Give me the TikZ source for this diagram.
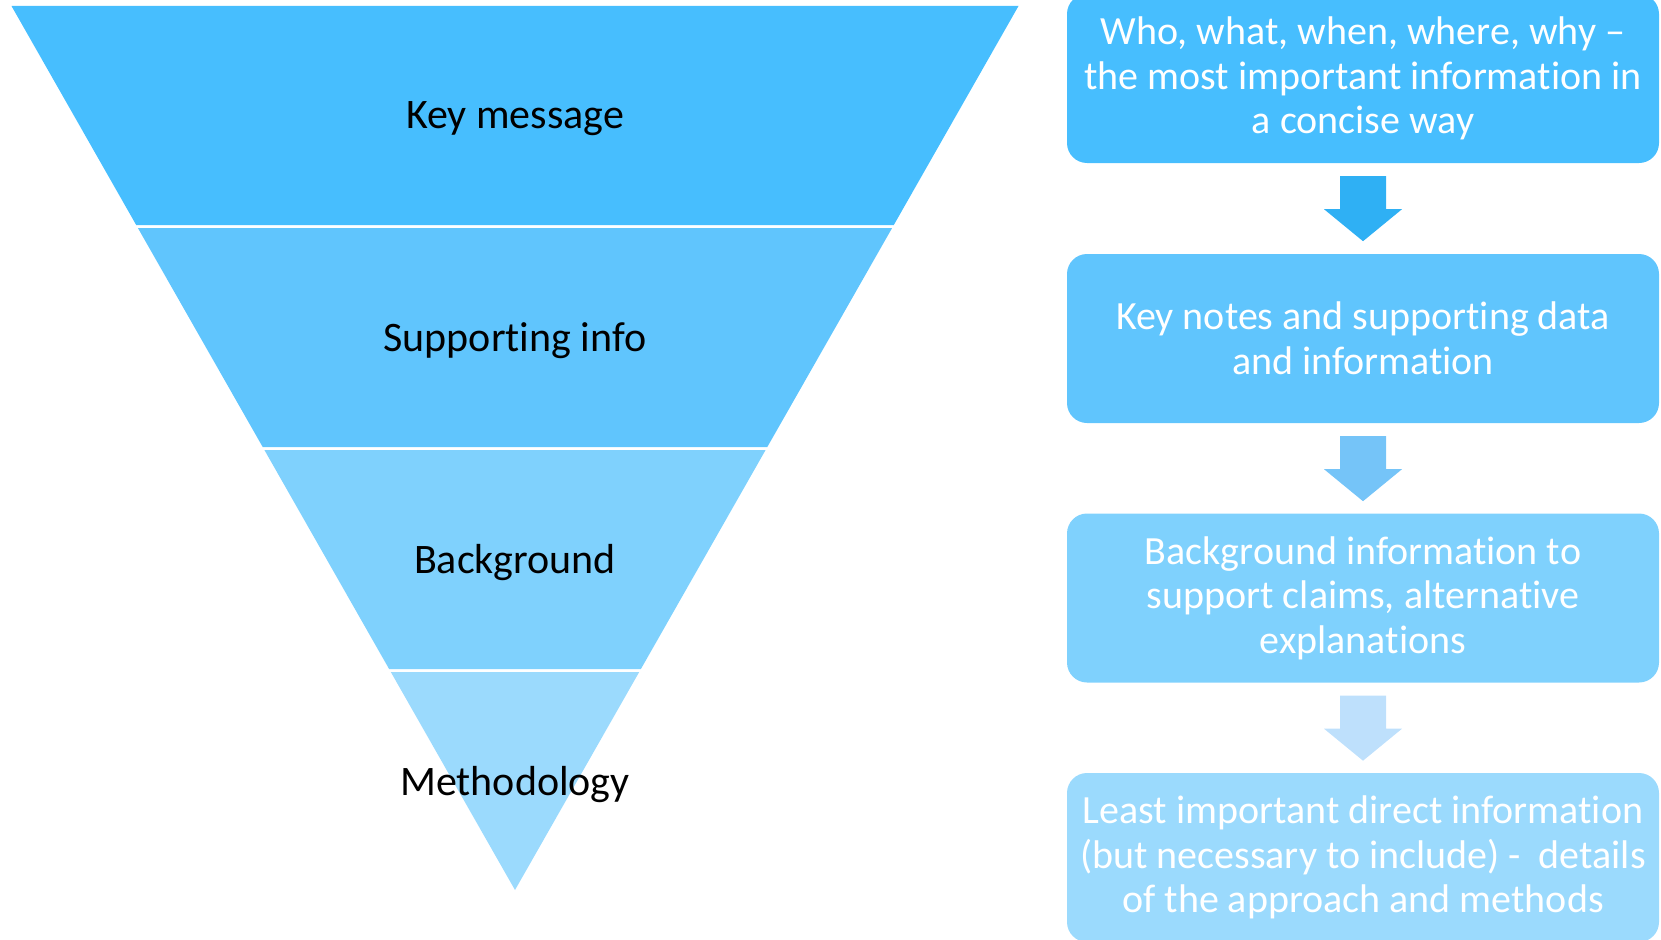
\documentclass[tikz,border=0pt]{standalone}
\usepackage{fontspec}
\setmainfont[Ligatures={NoCommon,NoContextual},Contextuals=NoAlternate]{Carlito}
\usetikzlibrary{positioning,calc}
\definecolor{bandA}{RGB}{71,190,254}
\definecolor{bandB}{RGB}{96,197,253}
\definecolor{bandC}{RGB}{127,209,253}
\definecolor{bandD}{RGB}{155,218,253}
\definecolor{arrowA}{RGB}{47,176,244}
\definecolor{arrowB}{RGB}{117,196,248}
\definecolor{arrowC}{RGB}{190,224,252}
\tikzset{
    lbl/.style={font=\fontsize{42}{46}\selectfont, text=black},
    infobox/.style={rounded corners=20pt, minimum width=592pt, minimum height=169pt,
        align=center, text=white, inner sep=0pt, font=\fontsize{40}{44.5}\selectfont}
}
% block arrow below node #1, colour #2
\newcommand{\blockarrow}[2]{%
    \fill[#2] ($(#1.south)+(-23,13)$) -- ($(#1.south)+(23,13)$) -- ($(#1.south)+(23,46)$)
        -- ($(#1.south)+(39,46)$) -- ($(#1.south)+(0,78)$) -- ($(#1.south)+(-39,46)$)
        -- ($(#1.south)+(-23,46)$) -- cycle;}

\begin{document}
\begin{tikzpicture}[x=1pt,y=-1pt]
    \useasboundingbox (0,0) rectangle (1661,939);
    \clip (0,0) rectangle (1661,939);

    % funnel
    \fill[bandA] (11.5,6) -- (1018.5,6) -- (893.8,225) -- (136.2,225) -- cycle;
    \fill[bandB] (137.9,228) -- (892.1,228) -- (767.3,447) -- (262.7,447) -- cycle;
    \fill[bandC] (264.4,450) -- (765.6,450) -- (640.9,669) -- (389.1,669) -- cycle;
    \fill[bandD] (390.8,672) -- (639.2,672) -- (515,890) -- cycle;

    \node[lbl] (keymsg) at (515,119) {Key message};
    \node[lbl] (support) at (515,341) {Supporting info};
    \node[lbl] (backgr) at (515,563) {Background};
    \node[lbl] (method) at (515,785) {Methodology};

    % description boxes
    \node[infobox, fill=bandA] (who) at (1363,78.5) {Who, what, when, where, why --\\the most important information in\\a concise way};
    \node[infobox, fill=bandB] (notes) at (1363,338.5) {Key notes and supporting data\\and information};
    \node[infobox, fill=bandC] (claims) at (1363,598) {Background information to\\support claims, alternative\\explanations};
    \node[infobox, fill=bandD] (least) at (1363,857.5) {Least important direct information\\(but necessary to include) -~ details\\of the approach and methods};

    \blockarrow{who}{arrowA}
    \blockarrow{notes}{arrowB}
    \blockarrow{claims}{arrowC}
\end{tikzpicture}
\end{document}
